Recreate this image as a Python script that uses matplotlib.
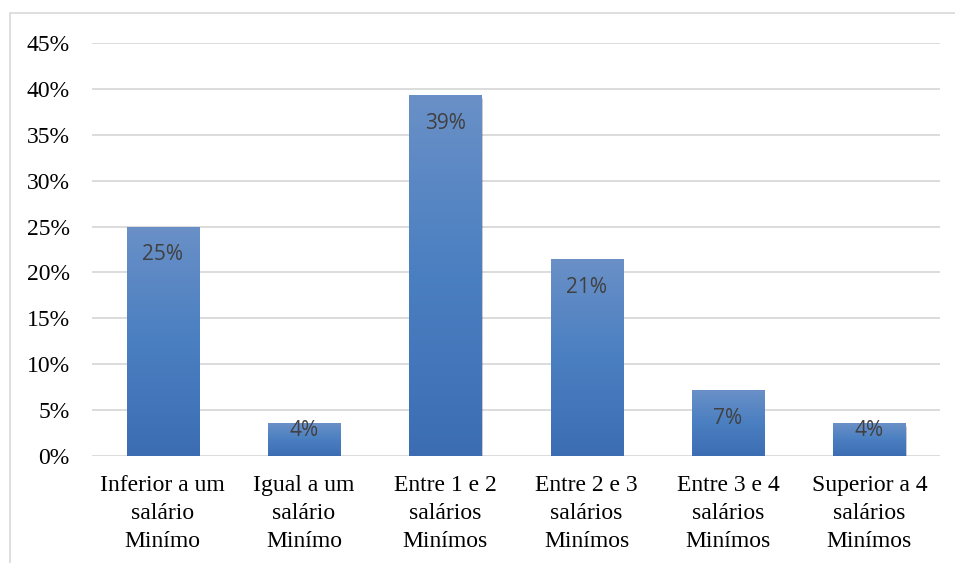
import numpy as np
import matplotlib
matplotlib.use("Agg")
import matplotlib.pyplot as plt
from matplotlib.patches import Rectangle
from matplotlib.colors import LinearSegmentedColormap

categories = [
    "Inferior a um\nsalário\nMinímo",
    "Igual a um\nsalário\nMinímo",
    "Entre 1 e 2\nsalários\nMinímos",
    "Entre 2 e 3\nsalários\nMinímos",
    "Entre 3 e 4\nsalários\nMinímos",
    "Superior a 4\nsalários\nMinímos",
]
counts = [7, 1, 11, 6, 2, 1]
total = sum(counts)
shares = [c / total for c in counts]
yticks = [0, 0.05, 0.10, 0.15, 0.20, 0.25, 0.30, 0.35, 0.40, 0.45]

W, H = 955, 563
fig = plt.figure(figsize=(W / 100, H / 100), dpi=100)
ax = fig.add_axes([92 / W, 1 - 456 / H, (940 - 92) / W, (456 - 43) / H])

# outer chart frame
fig.patches.append(Rectangle((10 / W, -0.01), 1.0, 1 - 13 / H + 0.01,
                             transform=fig.transFigure, fill=False,
                             edgecolor="#d9d9d9", linewidth=1.2))

x = np.arange(len(categories))
width = 0.51
ax.set_xlim(-0.5, len(categories) - 0.5)
ax.set_ylim(0, 0.45)

for t in yticks:
    ax.axhline(t, color="#d9d9d9", linewidth=1.3, zorder=0)

cmap = LinearSegmentedColormap.from_list("bar", ["#3c6db3", "#4a7fc1", "#6a90c7"])
grad = np.linspace(0, 1, 256).reshape(-1, 1)

px_per_unit = (456 - 43) / 0.45
for xi, v in zip(x, shares):
    # soft shadow under the bar
    for k, a in enumerate([0.10, 0.07, 0.04]):
        sh = Rectangle((xi - width / 2 + 0.01, -0.003 - k * 0.0012), width, v,
                       facecolor="black", alpha=a, edgecolor="none", zorder=1)
        ax.add_patch(sh)
    rect = Rectangle((xi - width / 2, 0), width, v, facecolor="none",
                     edgecolor="none", zorder=2)
    ax.add_patch(rect)
    im = ax.imshow(grad, cmap=cmap, aspect="auto", origin="lower",
                   extent=(xi - width / 2, xi + width / 2, 0, v), zorder=2)
    im.set_clip_path(rect)
    h_px = v * px_per_unit
    off = min(28, h_px - 26)
    ax.annotate(f"{v * 100:.0f}%", xy=(xi, v), xytext=(0, -off * 0.72),
                textcoords="offset points", ha="center", va="center",
                fontsize=15, color="#404040", family="Open Sans", zorder=3)

ax.set_xticks(x)
ax.set_xticklabels(categories, fontsize=17, family="Liberation Serif",
                   linespacing=1.42)
ax.set_yticks(yticks)
ax.set_yticklabels([f"{t * 100:.0f}%" for t in yticks], fontsize=17,
                   family="Liberation Serif")
ax.tick_params(axis="both", length=0, colors="black")
ax.tick_params(axis="y", pad=16)
ax.tick_params(axis="x", pad=14)
for s in ax.spines.values():
    s.set_visible(False)

fig.savefig("out.png", dpi=100)
